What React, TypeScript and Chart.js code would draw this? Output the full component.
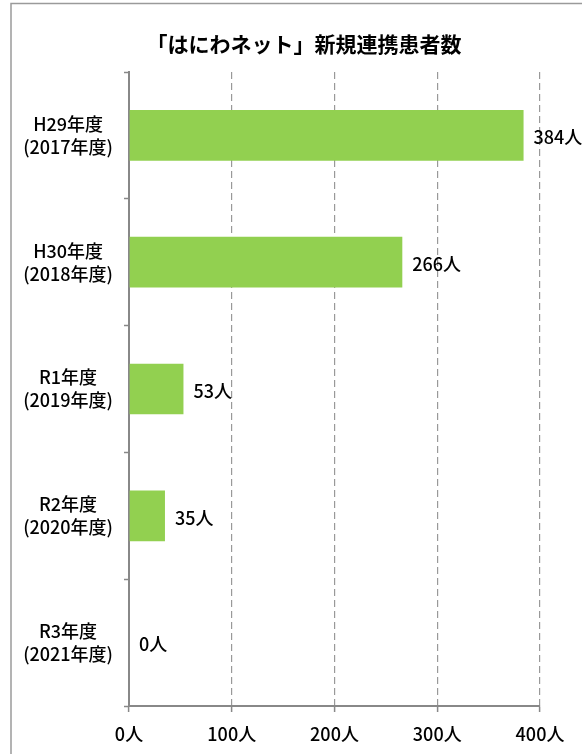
import React, { useEffect, useRef } from "react";
import { Chart, registerables } from "chart.js";

Chart.register(...registerables);

const TITLE = "「はにわネット」新規連携患者数";
const categories: string[][] = [
  ["H29年度", "(2017年度)"],
  ["H30年度", "(2018年度)"],
  ["R1年度", "(2019年度)"],
  ["R2年度", "(2020年度)"],
  ["R3年度", "(2021年度)"],
];
const values: number[] = [384, 266, 53, 35, 0];
const unit = "人";
const xMin = 0;
const xMax = 400;
const xStep = 100;

const FONT = "'Noto Sans CJK JP', 'Noto Sans', sans-serif";

const framePlugin = {
  id: "frame",
  beforeDraw(chart: any) {
    const ctx = chart.ctx;
    ctx.save();
    ctx.fillStyle = "#ffffff";
    ctx.fillRect(0, 0, chart.width, chart.height);
    ctx.strokeStyle = "#9a9a9a";
    ctx.lineWidth = 1.5;
    ctx.beginPath();
    ctx.moveTo(11, chart.height + 10);
    ctx.lineTo(11, 3.5);
    ctx.lineTo(chart.width + 10, 3.5);
    ctx.stroke();
    // title
    ctx.fillStyle = "#000";
    ctx.font = `bold 21px ${FONT}`;
    ctx.textAlign = "center";
    ctx.textBaseline = "middle";
    ctx.fillText(TITLE, 304, 44);
    ctx.restore();
  },
};

const labelPlugin = {
  id: "barLabels",
  afterDatasetsDraw(chart: any) {
    const ctx = chart.ctx;
    const meta = chart.getDatasetMeta(0);
    ctx.save();
    ctx.fillStyle = "#000";
    ctx.font = `500 18px ${FONT}`;
    ctx.textAlign = "left";
    ctx.textBaseline = "middle";
    meta.data.forEach((el: any, i: number) => {
      ctx.fillText(`${values[i]}${unit}`, el.x + 10, el.y + 2);
    });
    ctx.restore();
  },
};

export default function App() {
  const ref = useRef<HTMLCanvasElement>(null);
  useEffect(() => {
    if (!ref.current) return;
    const chart = new Chart(ref.current, {
      type: "bar",
      data: {
        labels: categories,
        datasets: [
          {
            data: values,
            backgroundColor: "#92D050",
            borderWidth: 0,
            categoryPercentage: 1,
            barPercentage: 0.4,
          },
        ],
      },
      options: {
        indexAxis: "y",
        animation: false,
        responsive: false,
        layout: { padding: { left: 11, top: 72, right: 42, bottom: 0 } },
        plugins: {
          legend: { display: false },
          title: { display: false },
          tooltip: { enabled: false },
        },
        scales: {
          y: {
            afterFit(scale: any) {
              scale.width = 118;
            },
            grid: {
              display: true,
              drawOnChartArea: false,
              drawTicks: true,
              tickLength: 5,
              tickColor: "#888",
              tickWidth: 1.5,
              offset: true,
            },
            border: { display: true, color: "#888", width: 2 },
            ticks: {
              crossAlign: "center",
              padding: 11,
              color: "#000",
              font: { family: FONT, size: 18, weight: "500", lineHeight: 1.28 },
            },
          },
          x: {
            min: xMin,
            max: xMax,
            afterFit(scale: any) {
              scale.height = 48;
            },
            grid: {
              display: true,
              drawOnChartArea: true,
              color: "#999",
              lineWidth: 1.2,
              tickLength: 6,
              tickColor: "#888",
              tickWidth: 1.5,
            },
            border: { display: true, color: "#888", width: 2, dash: [7, 4] },
            ticks: {
              stepSize: xStep,
              padding: 11,
              color: "#000",
              font: { family: FONT, size: 18, weight: "500" },
              callback: (v: any) => `${v}${unit}`,
            },
          },
        },
      },
      plugins: [framePlugin, labelPlugin],
    });
    return () => chart.destroy();
  }, []);
  return (
    <div style={{ position: "absolute", left: 0, top: 0, width: 582, height: 754 }}>
      <canvas ref={ref} width={582} height={754} />
    </div>
  );
}
